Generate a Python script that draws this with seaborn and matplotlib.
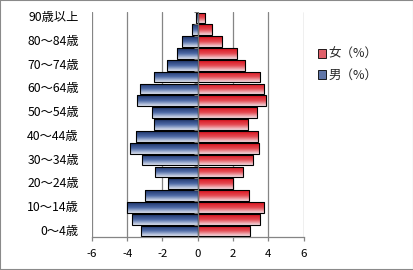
import numpy as np
import pandas as pd
import matplotlib
matplotlib.use("Agg")
import matplotlib.pyplot as plt
import seaborn as sns
from matplotlib.colors import LinearSegmentedColormap
from matplotlib.patches import Rectangle, Patch

# Age groups, youngest first
ages = ["0〜4歳", "5〜9歳", "10〜14歳", "15〜19歳", "20〜24歳", "25〜29歳",
        "30〜34歳", "35〜39歳", "40〜44歳", "45〜49歳", "50〜54歳", "55〜59歳",
        "60〜64歳", "65〜69歳", "70〜74歳", "75〜79歳", "80〜84歳", "85〜89歳",
        "90歳以上"]
# Share of population (%) per age group
male = [3.22, 3.73, 4.01, 2.97, 1.67, 2.42, 3.14, 3.83, 3.52, 2.48, 2.60, 3.47,
        3.28, 2.48, 1.74, 1.18, 0.91, 0.30, 0.10]
female = [2.97, 3.54, 3.77, 2.92, 2.00, 2.57, 3.14, 3.48, 3.43, 2.86, 3.39, 3.85,
          3.75, 3.56, 2.69, 2.23, 1.38, 0.81, 0.40]
label_f = "女（%）"
label_m = "男（%）"
x_ticks = [-6, -4, -2, 0, 2, 4, 6]

sns.set_theme(style="white")
plt.rcParams["font.family"] = ["Noto Sans CJK JP", "DejaVu Sans"]
plt.rcParams["axes.unicode_minus"] = False

df = pd.DataFrame({
    "age": ages * 2,
    "pct": [-v for v in male] + female,
    "sex": [label_m] * len(ages) + [label_f] * len(ages),
})
order = ages[::-1]  # oldest group at the top

fig = plt.figure(figsize=(4.14, 2.70), dpi=100)
ax = fig.add_axes([0.2222, 0.1222, 0.5109, 0.8334])

sns.barplot(data=df, y="age", x="pct", hue="sex", order=order,
            hue_order=[label_f, label_m], dodge=False, width=0.9,
            palette={label_f: "#d9202a", label_m: "#2a4580"},
            edgecolor="black", linewidth=0.8, legend=False, ax=ax, zorder=3)

grad_m = LinearSegmentedColormap.from_list("gm", ["#1d3368", "#4d6aa6", "#dfe4f0"])
grad_f = LinearSegmentedColormap.from_list("gf", ["#d8101c", "#e44a52", "#f4dde2"])
ramp = np.linspace(0, 1, 64).reshape(-1, 1)

for patch in list(ax.patches):
    x0 = patch.get_x()
    w = patch.get_width()
    if w == 0:
        continue
    y0 = patch.get_y()
    h = patch.get_height()
    cmap = grad_m if x0 + w <= 1e-9 else grad_f
    im = ax.imshow(ramp, cmap=cmap, aspect="auto", origin="upper",
                   extent=(x0, x0 + w, y0 + h, y0), zorder=2.5,
                   interpolation="bilinear")
    im.set_clip_path(patch)
    patch.set_facecolor("none")

ax.set_xlim(-6, 6)
ax.set_ylim(len(ages) - 0.5, -0.5)
ax.set_xticks(x_ticks)
ax.set_xticklabels([str(t) for t in x_ticks], fontsize=8.2)
ax.set_xlabel("")
ax.set_ylabel("")

# vertical gridlines
for t in x_ticks:
    if t != 0:
        ax.axvline(t, color="#858585", lw=0.9, zorder=1)
ax.axvline(0, color="#707070", lw=0.9, zorder=4)

for s in ["top", "right", "left"]:
    ax.spines[s].set_visible(False)
ax.spines["bottom"].set_color("#858585")
ax.spines["bottom"].set_linewidth(0.9)
ax.tick_params(axis="x", direction="out", length=3, width=0.9, color="#858585",
               pad=5.5, labelcolor="black", bottom=True)

# category labels (every other group) and boundary ticks on the zero line
ax.set_yticks([])
ytrans = ax.get_yaxis_transform()
for i, name in enumerate(ages):
    if i % 2 == 0:
        ax.text(-0.062, order.index(name), name, transform=ytrans, ha="right",
                va="center", fontsize=8.8, color="black")
for b in np.arange(-0.5, len(ages), 1.0):
    ax.plot([-0.2, 0], [b, b], color="#707070", lw=0.8, zorder=4,
            solid_capstyle="butt")

handles = [Patch(facecolor="#e0606a", edgecolor="black", linewidth=0.6),
           Patch(facecolor="#6076a8", edgecolor="black", linewidth=0.6)]
fig.legend(handles, [label_f, label_m], loc="upper left",
           bbox_to_anchor=(0.755, 0.84), frameon=False, fontsize=9,
           handlelength=0.7, handleheight=0.7, handletextpad=0.2,
           labelspacing=0.6, borderaxespad=0)

fig.patches.append(Rectangle((0, 0), 1, 1, transform=fig.transFigure,
                             fill=False, edgecolor="#8a8a8a", lw=1.5))

fig.savefig("out.png", dpi=100)
